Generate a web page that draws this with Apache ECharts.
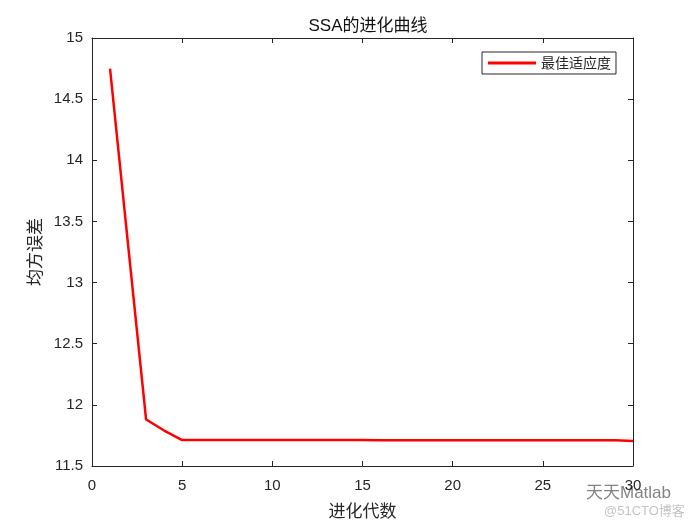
<!DOCTYPE html>
<html><head><meta charset="utf-8">
<script src="https://cdn.jsdelivr.net/npm/echarts@6/dist/echarts.min.js"></script>
<style>html,body{margin:0;padding:0;background:#fff}#c{width:700px;height:525px}</style>
</head><body><div id="c"></div>
<script>
const generations = [1,2,3,4,5,6,7,8,9,10,11,12,13,14,15,16,17,18,19,20,21,22,23,24,25,26,27,28,29,30];
const bestFitness = [14.75,13.31,11.88,11.79,11.712,11.712,11.712,11.712,11.712,11.712,11.712,11.712,11.712,11.712,11.712,11.711,11.711,11.711,11.711,11.711,11.711,11.711,11.711,11.711,11.711,11.711,11.711,11.711,11.711,11.705];
const xTicks = [0,5,10,15,20,25,30];
const yTicks = [11.5,12,12.5,13,13.5,14,14.5,15];
const titleText = 'SSA的进化曲线';
const xName = '进化代数';
const yName = '均方误差';
const seriesName = '最佳适应度';

const chart = echarts.init(document.getElementById('c'));
const axisCol = '#262626';
const tickFont = {color:'#262626', fontSize:15, fontFamily:'Liberation Sans, Arial, sans-serif'};
const cjk = 'Noto Sans CJK SC, sans-serif';
function xAxisBase(pos, show){
  return {type:'value', position:pos, min:xTicks[0], max:xTicks[xTicks.length-1], interval:xTicks[1]-xTicks[0],
    axisLine:{show:true, onZero:false, lineStyle:{color:axisCol, width:1}},
    axisTick:{show:true, inside:true, length:5, lineStyle:{color:axisCol}},
    axisLabel:{show:show, margin:12, ...tickFont},
    splitLine:{show:false}};
}
function yAxisBase(pos, show){
  return {type:'value', position:pos, min:yTicks[0], max:yTicks[yTicks.length-1], interval:yTicks[1]-yTicks[0],
    axisLine:{show:true, onZero:false, lineStyle:{color:axisCol, width:1}},
    axisTick:{show:true, inside:true, length:5, lineStyle:{color:axisCol}},
    axisLabel:{show:show, margin:9, ...tickFont},
    splitLine:{show:false}};
}
const xa = xAxisBase('bottom', true);
xa.name = xName; xa.nameLocation='middle'; xa.nameGap=36;
xa.nameTextStyle = {fontFamily:cjk, fontSize:17, color:'#262626'};
const ya = yAxisBase('left', true);
ya.name = yName; ya.nameLocation='middle'; ya.nameGap=46;
ya.nameTextStyle = {fontFamily:cjk, fontSize:17, color:'#262626'};

chart.setOption({
  animation:false,
  backgroundColor:'#fff',
  title:{text:titleText, left:363, textAlign:'center', top:13,
    textStyle:{fontSize:17, fontWeight:'normal', color:'#111', fontFamily:'Liberation Sans, Arial, '+cjk}},
  grid:{left:92, right:67, top:38, bottom:59},
  legend:{left:482, top:52, padding:[4,5,4,6], itemWidth:48, itemHeight:3, itemGap:5,
    icon:'rect', borderColor:'#262626', borderWidth:1, borderRadius:0, backgroundColor:'#fff',
    textStyle:{fontFamily:cjk, fontSize:14, color:'#262626'},
    data:[seriesName]},
  xAxis:[xa, xAxisBase('top', false)],
  yAxis:[ya, yAxisBase('right', false)],
  series:[{name:seriesName, type:'line', xAxisIndex:0, yAxisIndex:0,
    data:generations.map((g,i)=>[g,bestFitness[i]]),
    showSymbol:false, symbol:'none', color:'#ff0000',
    lineStyle:{color:'#ff0000', width:2.5}}],
  graphic:[
    {type:'text', left:586, top:485, style:{text:'天天Matlab', fontSize:17, fill:'rgba(90,90,90,0.75)', fontFamily:'Liberation Sans, '+cjk}},
    {type:'text', left:604, top:505, style:{text:'@51CTO博客', fontSize:13, fill:'rgba(170,170,170,0.7)', fontFamily:'Liberation Sans, '+cjk}}
  ]
});
</script></body></html>
